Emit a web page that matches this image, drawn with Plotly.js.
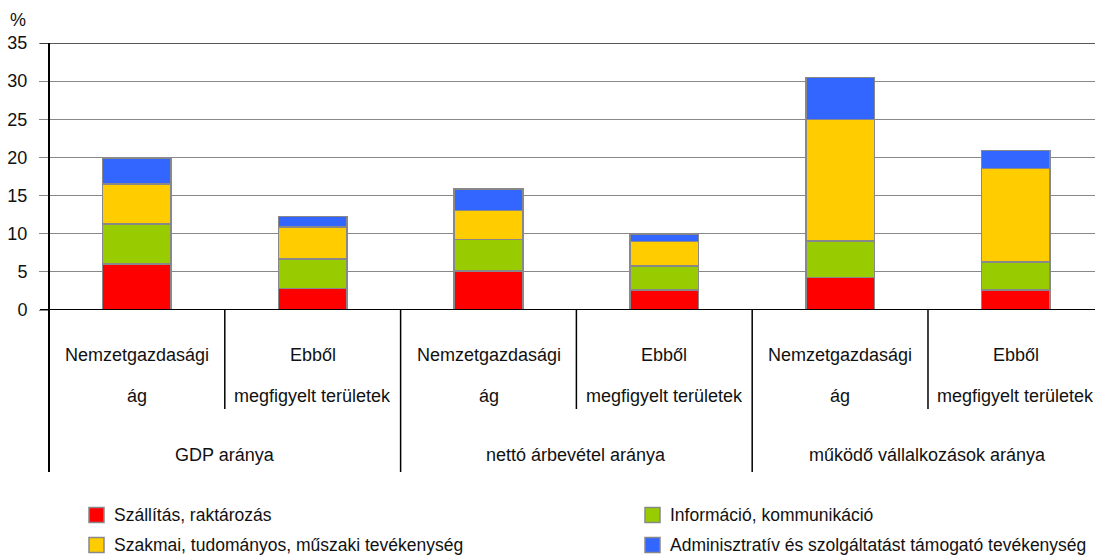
<!DOCTYPE html>
<html>
<head>
<meta charset="utf-8">
<script src="https://cdn.plot.ly/plotly-3.0.1.min.js"></script>
<style>
  html, body { margin: 0; padding: 0; background: #fff; }
  #chart { width: 1095px; height: 559px; }
</style>
</head>
<body>
<div id="chart"></div>
<script>
// ---- data ----
const groups = ["GDP aránya", "nettó árbevétel aránya", "működő vállalkozások aránya"];
const subLabels = [["Nemzetgazdasági", "ág"], ["Ebből", "megfigyelt területek"]];
const seriesNames = [
  "Szállítás, raktározás",
  "Információ, kommunikáció",
  "Szakmai, tudományos, műszaki tevékenység",
  "Adminisztratív és szolgáltatást támogató tevékenység"
];
const szallitas = [6.0, 2.8, 5.1, 2.6, 4.25, 2.6];
const informacio = [5.3, 3.9, 4.15, 3.2, 4.8, 3.7];
const szakmai = [5.2, 4.15, 3.8, 3.2, 15.9, 12.25];
const adminisztrativ = [3.4, 1.4, 2.8, 0.9, 5.5, 2.35];
const yTicks = [0, 5, 10, 15, 20, 25, 30, 35];
const yUnit = "%";

// ---- styling / layout helpers ----
const colors = ["#FF0000", "#99CC00", "#FFCC00", "#3366FF"];
const FONT = "Liberation Sans, Arial, sans-serif";
const W = 1095, H = 559;
const L = 49, R = 0, T = 43, B = 249;
const PW = W - L - R, PH = H - T - B;
const px = x => (x - L) / PW;          // pixel x -> paper x
const py = y => (H - B - y) / PH;      // pixel y -> paper y

// category keys
const xKeys = [];
groups.forEach(g => subLabels.forEach(s => xKeys.push(g + " | " + s.join(" "))));

const values = [szallitas, informacio, szakmai, adminisztrativ];
const traces = values.map((v, i) => ({
  type: "bar",
  name: seriesNames[i],
  x: xKeys,
  y: v,
  width: 0.39,
  marker: { color: colors[i], line: { color: "#888888", width: 1.5 } },
  showlegend: false,
  hoverinfo: "y+name"
}));

const shapes = [];
const annotations = [];

// top and zero lines
shapes.push({ type: "line", xref: "paper", yref: "y", x0: px(40), x1: 1, y0: 35, y1: 35,
  line: { color: "#222", width: 1.5 } });
shapes.push({ type: "line", xref: "paper", yref: "y", x0: px(40), x1: 1, y0: 0, y1: 0,
  line: { color: "#000", width: 2 } });
// left spine
shapes.push({ type: "line", xref: "paper", yref: "paper", x0: 0, x1: 0, y0: 1, y1: py(472),
  line: { color: "#000", width: 2 } });
// dividers
const nSub = subLabels.length;
for (let i = 0; i < xKeys.length; i++) {
  const xb = i + 0.5;
  const isOuter = (i + 1) % nSub === 0;
  shapes.push({ type: "line", xref: "x", yref: "paper", x0: xb, x1: xb, y0: 0,
    y1: isOuter ? py(472) : py(409), line: { color: "#000", width: 1.5 } });
}
// sub labels
const lineY = [py(355), py(396)];
xKeys.forEach((k, i) => {
  const lines = subLabels[i % nSub];
  lines.forEach((t, j) => {
    annotations.push({ xref: "x", yref: "paper", x: i, y: lineY[j], text: t,
      showarrow: false, xanchor: "center", yanchor: "middle",
      font: { family: FONT, size: 18, color: "#111" } });
  });
});
// group labels
groups.forEach((g, gi) => {
  annotations.push({ xref: "x", yref: "paper", x: gi * nSub + (nSub - 1) / 2, y: py(455), text: g,
    showarrow: false, xanchor: "center", yanchor: "middle",
    font: { family: FONT, size: 18, color: "#111" } });
});
// unit label
annotations.push({ xref: "paper", yref: "paper", x: px(18), y: py(20), text: yUnit,
  showarrow: false, xanchor: "center", yanchor: "middle",
  font: { family: FONT, size: 18, color: "#111" } });

// manual legend (2 columns)
const legCols = [89, 645], legRows = [515, 545], sq = 15;
seriesNames.forEach((n, i) => {
  const cx = legCols[i % 2], cy = legRows[Math.floor(i / 2)];
  shapes.push({ type: "rect", xref: "paper", yref: "paper",
    x0: px(cx), x1: px(cx + sq), y0: py(cy - sq / 2), y1: py(cy + sq / 2),
    fillcolor: colors[i], line: { color: "#888888", width: 1.5 } });
  annotations.push({ xref: "paper", yref: "paper", x: px(cx + sq + 8), y: py(cy), text: n,
    showarrow: false, xanchor: "left", yanchor: "middle",
    font: { family: FONT, size: 17.5, color: "#111" } });
});

const layout = {
  width: W, height: H,
  margin: { l: L, r: R, t: T, b: B, pad: 0 },
  paper_bgcolor: "#fff", plot_bgcolor: "#fff",
  barmode: "stack",
  showlegend: false,
  xaxis: { type: "category", range: [-0.5, 5.45], showticklabels: false, showgrid: false,
    ticks: "", zeroline: false, showline: false, fixedrange: true },
  yaxis: { range: [0, 35], tickvals: yTicks, ticktext: yTicks.map(String),
    showgrid: true, gridcolor: "#888888", gridwidth: 1, zeroline: false, showline: false,
    ticks: "outside", ticklen: 9, tickcolor: "#888888", tickwidth: 1,
    ticklabelstandoff: 8,
    tickfont: { family: FONT, size: 18, color: "#111" }, fixedrange: true },
  shapes: shapes,
  annotations: annotations,
  font: { family: FONT }
};

Plotly.newPlot("chart", traces, layout, { displayModeBar: false, staticPlot: true });
</script>
</body>
</html>
